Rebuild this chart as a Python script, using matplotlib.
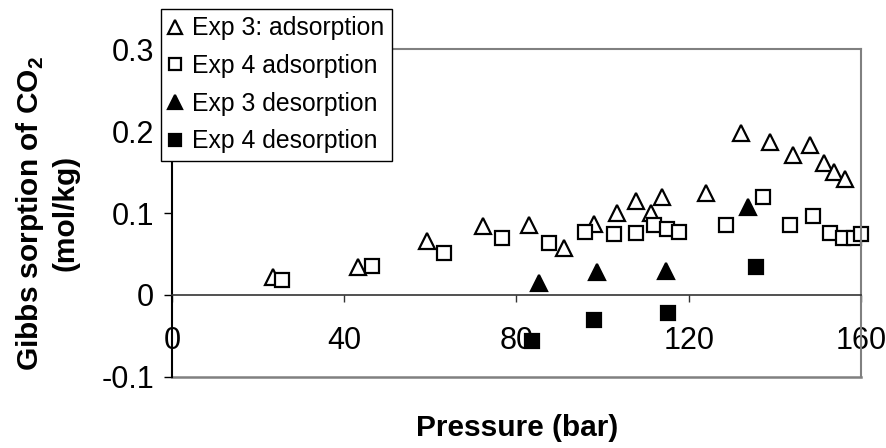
import numpy as np
import matplotlib
matplotlib.use('Agg')
import matplotlib.pyplot as plt

plt.rcParams['font.family'] = ['Liberation Sans', 'DejaVu Sans']
plt.rcParams['mathtext.fontset'] = 'custom'
plt.rcParams['mathtext.rm'] = 'Liberation Sans'
plt.rcParams['mathtext.bf'] = 'Liberation Sans:bold'
plt.rcParams['axes.unicode_minus'] = False

# Exp 3 adsorption (open triangles)
exp3_ads_p = [23.5, 43.3, 59.3, 72.3, 82.8, 91.0, 98.0, 103.3, 107.7, 111.2, 113.9,
              124.0, 132.1, 138.8, 144.2, 148.1, 151.4, 153.8, 156.3]
exp3_ads_n = [0.022, 0.034, 0.066, 0.084, 0.085, 0.057, 0.087, 0.100, 0.115, 0.100, 0.120,
              0.124, 0.197, 0.186, 0.171, 0.183, 0.161, 0.150, 0.142]

# Exp 4 adsorption (open squares)
exp4_ads_p = [25.6, 46.5, 63.2, 76.7, 87.5, 95.9, 102.6, 107.8, 111.9, 115.0, 117.7,
              128.6, 137.2, 143.5, 148.8, 152.8, 155.8, 158.4, 160.0]
exp4_ads_n = [0.018, 0.035, 0.051, 0.069, 0.063, 0.077, 0.074, 0.076, 0.085, 0.080, 0.077,
              0.085, 0.119, 0.085, 0.096, 0.076, 0.070, 0.070, 0.074]

# Exp 3 desorption (filled triangles)
exp3_des_p = [85.2, 98.7, 114.8, 133.7]
exp3_des_n = [0.015, 0.028, 0.029, 0.107]

# Exp 4 desorption (filled squares)
exp4_des_p = [83.6, 98.0, 115.2, 135.7]
exp4_des_n = [-0.056, -0.030, -0.022, 0.034]

xticks = [0, 40, 80, 120, 160]
yticks = [-0.1, 0, 0.1, 0.2, 0.3]
ytick_labels = ['-0.1', '0', '0.1', '0.2', '0.3']

fig = plt.figure(figsize=(8.87, 4.48), dpi=100)
ax = fig.add_axes([172/887, 1-377/448, 689/887, 328/448])

ax.plot(exp3_ads_p, exp3_ads_n, linestyle='none', marker='^', ms=11,
        mfc='white', mec='black', mew=1.6, label='Exp 3: adsorption', clip_on=False)
ax.plot(exp4_ads_p, exp4_ads_n, linestyle='none', marker='s', ms=9.5,
        mfc='white', mec='black', mew=1.6, label='Exp 4 adsorption', clip_on=False)
ax.plot(exp3_des_p, exp3_des_n, linestyle='none', marker='^', ms=11,
        mfc='black', mec='black', mew=1.6, label='Exp 3 desorption', clip_on=False)
ax.plot(exp4_des_p, exp4_des_n, linestyle='none', marker='s', ms=9.5,
        mfc='black', mec='black', mew=1.6, label='Exp 4 desorption', clip_on=False)

ax.set_xlim(0, 160)
ax.set_ylim(-0.1, 0.3)
ax.set_xticks(xticks)
ax.set_xticklabels([str(t) for t in xticks])
ax.set_yticks(yticks)
ax.set_yticklabels(ytick_labels)

gray = '#808080'
ax.spines['bottom'].set_position(('data', 0))
ax.spines['bottom'].set_color('#333333')
ax.spines['bottom'].set_linewidth(1.2)
ax.spines['left'].set_color('black')
ax.spines['left'].set_linewidth(1.5)
ax.spines['top'].set_color(gray)
ax.spines['top'].set_linewidth(1.5)
ax.spines['right'].set_color(gray)
ax.spines['right'].set_linewidth(1.5)
ax.axhline(-0.1, color=gray, lw=1.8, clip_on=False, zorder=0.5)

ax.tick_params(axis='x', direction='out', length=5, width=1.0, pad=17,
               labelsize=22, color='#333333')
ax.tick_params(axis='y', direction='out', length=6, width=1.0, pad=7,
               labelsize=22)

fig.text(47/887, 1-213/448, 'Gibbs sorption of CO$_\\mathbf{2}$\n(mol/kg)',
         rotation=90, ha='center', va='center', multialignment='center',
         fontsize=21.5, fontweight='bold', linespacing=1.25)
fig.text(517/887, 1-428/448, 'Pressure (bar)', ha='center', va='center',
         fontsize=21.5, fontweight='bold')

leg = ax.legend(loc='upper left', bbox_to_anchor=(161/887, 1-9/448),
                bbox_transform=fig.transFigure, fontsize=17.8, frameon=True,
                fancybox=False, edgecolor='black', framealpha=1,
                handlelength=0.55, handletextpad=0.4, borderpad=0.3,
                borderaxespad=0, labelspacing=0.55, markerscale=0.9)
leg._legend_box.sep = 0
leg.get_frame().set_linewidth(1.0)

fig.savefig('out.png', dpi=100)
